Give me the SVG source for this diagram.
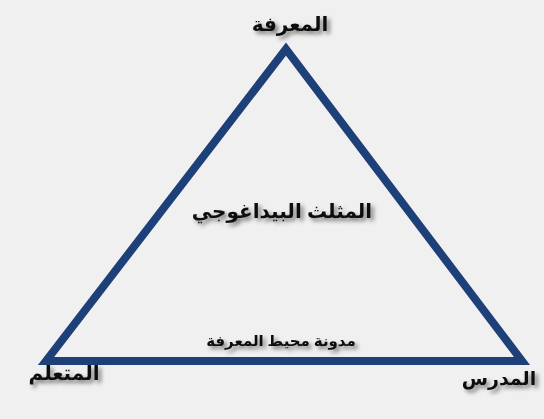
<svg xmlns="http://www.w3.org/2000/svg" width="544" height="419" viewBox="0 0 544 419">
<defs>
<style>
.lbl{font-family:"Noto Sans","DejaVu Sans",sans-serif;font-weight:bold;fill:#111;text-anchor:middle;filter:url(#sh)}
.edge{fill:none;stroke:#1d4079;stroke-width:8;stroke-linejoin:miter}
</style>
<filter id="sh" x="-20%" y="-50%" width="140%" height="200%">
<feDropShadow dx="3" dy="3" stdDeviation="2" flood-color="#000" flood-opacity="0.5"/>
</filter>
</defs>
<rect width="544" height="419" fill="#f0f0f0"/>
<g id="connectors">
<polygon class="edge" points="286,49 46,361 522,361"/>
</g>
<g id="node-knowledge"><text class="lbl" x="290" y="31" font-size="20">المعرفة</text></g>
<g id="node-learner"><text class="lbl" x="64" y="380" font-size="20">المتعلم</text></g>
<g id="node-teacher"><text class="lbl" x="499" y="385" font-size="19">المدرس</text></g>
<g id="node-center"><text class="lbl" x="282" y="218" font-size="20">المثلث البيداغوجي</text></g>
<g id="node-blog"><text class="lbl" x="281" y="346" font-size="15">مدونة محيط المعرفة</text></g>
</svg>
